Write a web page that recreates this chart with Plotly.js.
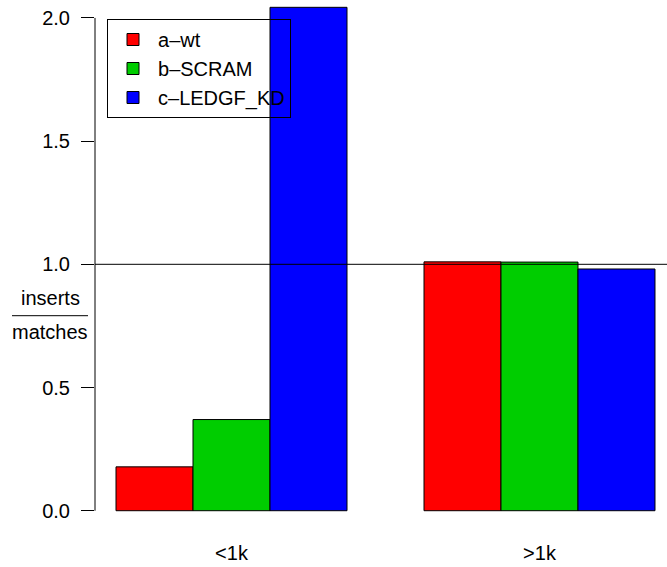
<!DOCTYPE html>
<html>
<head>
<meta charset="utf-8">
<script src="https://cdn.plot.ly/plotly-3.0.1.min.js"></script>
<style>html,body{margin:0;padding:0;background:#fff;}#chart{width:667px;height:567px;}</style>
</head>
<body>
<div id="chart"></div>
<script>
var categories = ["<1k", ">1k"];
var seriesNames = ["a\u2013wt", "b\u2013SCRAM", "c\u2013LEDGF_KD"];
var seriesValues = [
  [0.178, 1.010],
  [0.370, 1.009],
  [2.043, 0.981]
];
var seriesColors = ["#FF0000", "#00CD00", "#0000FF"];
var yTickVals = [0, 0.5, 1, 1.5, 2];
var yTickText = ["0.0", "0.5", "1.0", "1.5", "2.0"];

var FONT = "Liberation Sans, Arial, Helvetica, sans-serif";
var FS = 20;
var traces = seriesNames.map(function (name, i) {
  return {
    type: "bar",
    name: name,
    x: categories,
    y: seriesValues[i],
    marker: { color: seriesColors[i], line: { color: "#000", width: 1 } }
  };
});

var layout = {
  width: 667,
  height: 567,
  margin: { l: 95, r: 0, t: 0, b: 30 },
  paper_bgcolor: "#fff",
  plot_bgcolor: "#fff",
  font: { family: FONT, size: FS, color: "#000" },
  barmode: "group",
  bargap: 0.25,
  bargroupgap: 0,
  showlegend: true,
  legend: {
    x: 0.021, y: 0.9646, xanchor: "left", yanchor: "top",
    bgcolor: "rgba(0,0,0,0)", bordercolor: "#000", borderwidth: 1,
    font: { family: FONT, size: FS, color: "#000" },
    itemwidth: 40,
    entrywidth: 145
  },
  xaxis: {
    type: "category",
    range: [-0.4432, 1.414],
    showgrid: false, zeroline: false, showline: false,
    ticks: "", ticklabelstandoff: 2,
    tickfont: { family: FONT, size: FS, color: "#000" }
  },
  yaxis: {
    range: [-0.1067, 2.0727],
    showgrid: false, zeroline: false, showline: false,
    tickmode: "array", tickvals: yTickVals, ticktext: yTickText,
    ticks: "outside", ticklen: 13, tickwidth: 1, tickcolor: "#000",
    ticklabelstandoff: 7,
    tickfont: { family: FONT, size: FS, color: "#000" }
  },
  shapes: [
    { type: "line", xref: "paper", yref: "y", x0: 0, x1: 0, y0: 0, y1: 2, line: { color: "#000", width: 1 } },
    { type: "line", xref: "paper", yref: "y", x0: 0, x1: 1, y0: 1, y1: 1, line: { color: "#000", width: 1 } },
    { type: "line", xref: "paper", yref: "paper", x0: (12 - 95) / 572, x1: (88 - 95) / 572, y0: 1 - 315.7 / 537, y1: 1 - 315.7 / 537, line: { color: "#000", width: 1 } }
  ],
  annotations: [
    { text: "inserts", xref: "paper", yref: "paper", x: (50 - 95) / 572, y: 1 - 298 / 537, showarrow: false, xanchor: "center", yanchor: "middle", font: { family: FONT, size: FS, color: "#000" } },
    { text: "matches", xref: "paper", yref: "paper", x: (50 - 95) / 572, y: 1 - 332 / 537, showarrow: false, xanchor: "center", yanchor: "middle", font: { family: FONT, size: FS, color: "#000" } }
  ]
};

Plotly.newPlot("chart", traces, layout, { staticPlot: true, displayModeBar: false });
</script>
</body>
</html>
